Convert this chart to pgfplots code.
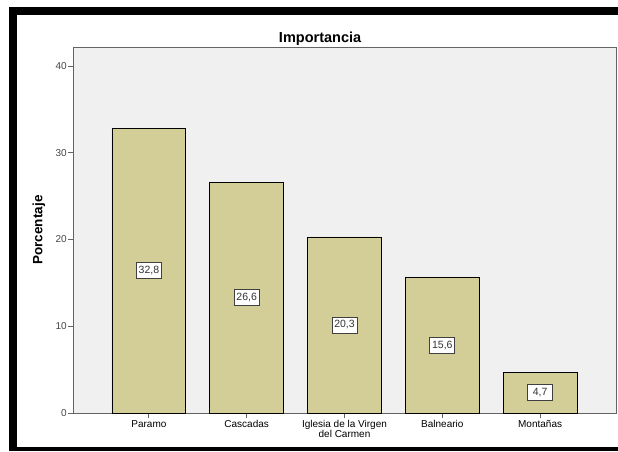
\documentclass[border=0pt]{standalone}
\usepackage{pgfplots}
\pgfplotsset{compat=1.18}
\usepackage{fontspec}
\setmainfont{Liberation Sans}
\definecolor{bgc}{RGB}{240,240,240}
\definecolor{barc}{RGB}{211,206,151}
\definecolor{axc}{RGB}{100,100,100}
\definecolor{txc}{RGB}{70,70,70}
\begin{document}
\begin{tikzpicture}
\useasboundingbox (0pt,0pt) rectangle (618pt,451pt);
\fill[white] (0pt,0pt) rectangle (618pt,451pt);
\begin{axis}[
  at={(73pt,38pt)}, anchor=south west,
  scale only axis, width=543pt, height=366pt,
  xmin=-0.776, xmax=4.776, ymin=0, ymax=42.2,
  axis background/.style={fill=bgc},
  axis line style={axc, line width=0.9pt},
  tick style={axc, line width=0.9pt},
  tick align=outside, major tick length=5pt, tick pos=left,
  xtick={0,1,2,3,4},
  xticklabels={Paramo, Cascadas, {Iglesia de la Virgen\\del Carmen}, Balneario, Montañas},
  x tick label style={align=center, font=\fontsize{10}{10.5}\selectfont, text=black, inner sep=1pt, yshift=-1pt},
  ytick={0,10,20,30,40},
  y tick label style={font=\fontsize{10}{11}\selectfont, text=txc, inner sep=1pt},
  /pgf/number format/assume math mode=true,
  ylabel={Porcentaje},
  every axis y label/.style={at={(rel axis cs:0,0.5)}, xshift=-34pt, rotate=90, anchor=center, font=\bfseries\fontsize{13.5}{14}\selectfont},
  title={Importancia},
  every axis title/.style={at={(rel axis cs:0.455,1)}, anchor=base, yshift=5pt, font=\bfseries\fontsize{14.5}{15}\selectfont},
]
\addplot[ybar, bar width=0.755, fill=barc, draw=black, line width=0.7pt] coordinates {
  (0,32.8) (1,26.6) (2,20.3) (3,15.6) (4,4.7)
};
\addplot[draw=none, mark=none, y filter/.expression={y/2}, point meta=rawy,
  nodes near coords={\pgfmathprintnumber[fixed, precision=1, fixed zerofill, use comma]{\pgfplotspointmeta}},
  nodes near coords align=center,
  every node near coord/.style={anchor=center, draw=black!75, fill=white, line width=0.9pt, text=black!80,
    font=\fontsize{10.5}{11}\selectfont, inner sep=0pt, minimum width=25pt, minimum height=16pt}]
  coordinates {
  (0,32.8) (1,26.6) (2,20.3) (3,15.6) (4,4.7)
};
\end{axis}
% frame
\fill[black] (9pt,436pt) rectangle (618pt,444.3pt);
\fill[black] (9pt,0pt) rectangle (16.7pt,444.3pt);
\fill[black] (9pt,0pt) rectangle (618pt,4.3pt);
\end{tikzpicture}
\end{document}
